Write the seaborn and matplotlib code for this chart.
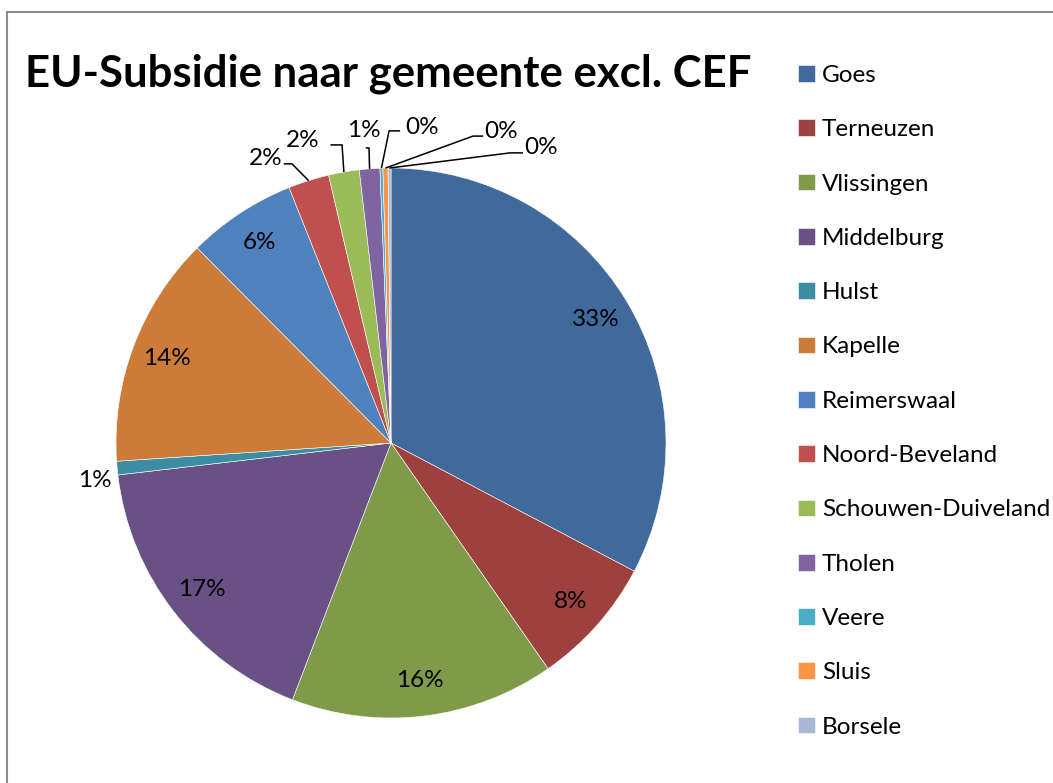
import numpy as np
import matplotlib
matplotlib.use("Agg")
import matplotlib.pyplot as plt
import matplotlib.patches as mpatches
import seaborn as sns

# data (share of total, %)
gemeenten = ["Goes", "Terneuzen", "Vlissingen", "Middelburg", "Hulst", "Kapelle",
             "Reimerswaal", "Noord-Beveland", "Schouwen-Duiveland", "Tholen",
             "Veere", "Sluis", "Borsele"]
aandeel = [32.7, 7.6, 15.5, 17.3, 0.8, 13.6, 6.4, 2.4, 1.8, 1.2, 0.17, 0.3, 0.17]
kleuren = ["#40699C", "#9E413E", "#7F9A48", "#695185", "#3C8DA3", "#CC7B38",
           "#4F81BD", "#C0504D", "#9BBB59", "#8064A2", "#4BACC6", "#F79646", "#A7B9D6"]

titel = "EU-Subsidie naar gemeente excl. CEF"

sns.set_theme(style="white")
plt.rcParams["font.family"] = ["Lato", "DejaVu Sans"]
plt.rcParams["text.color"] = "black"

W, H = 1053, 783
fig = plt.figure(figsize=(W / 100, H / 100), dpi=100)
fig.patch.set_facecolor("white")

# pie centre / radius in pixels
cx, cy, r = 391, 443, 275
ax = fig.add_axes([0, 0, 1, 1])

wedges, _ = ax.pie(aandeel, colors=kleuren, startangle=90, counterclock=False,
                   radius=1, wedgeprops=dict(edgecolor="white", linewidth=0.4))
ax.set_xlim(-cx / r, (W - cx) / r)
ax.set_ylim(-(H - cy) / r, cy / r)
ax.set_aspect("auto")
ax.axis("off")

totaal = sum(aandeel)
pct = ["{:.0f}%".format(round(v / totaal * 100)) for v in aandeel]
fs = 17.5

# inside labels for the big slices
for i, w in enumerate(wedges):
    if aandeel[i] < 5:
        continue
    mid = np.deg2rad((w.theta1 + w.theta2) / 2)
    ax.text(0.87 * np.cos(mid), 0.87 * np.sin(mid), pct[i], ha="center", va="center",
            fontsize=fs, color="black")

# outside labels (text position, elbow, end of horizontal part) in data units
buiten = {
    4: ((-1.076, -0.138), None, None),
    7: ((-0.455, 1.036), (-0.36, 1.015), (-0.39, 1.015)),
    8: ((-0.32, 1.10), (-0.178, 1.084), (-0.22, 1.084)),
    9: ((-0.10, 1.135), (-0.08, 1.073), (-0.092, 1.073)),
    10: ((0.113, 1.149), (-0.007, 1.135), (0.033, 1.135)),
    11: ((0.40, 1.131), (0.298, 1.116), (0.335, 1.116)),
    12: ((0.545, 1.076), (0.433, 1.055), (0.48, 1.055)),
}
for i, (pos, elbow, end) in buiten.items():
    w = wedges[i]
    ax.text(pos[0], pos[1], pct[i], ha="center", va="center", fontsize=fs, color="black")
    if elbow is not None:
        mid = np.deg2rad((w.theta1 + w.theta2) / 2)
        x0, y0 = np.cos(mid), np.sin(mid)
        ax.plot([x0, elbow[0], end[0]], [y0, elbow[1], end[1]], color="black",
                linewidth=1.1, solid_capstyle="butt")

fig.text(25 / W, 1 - 74 / H, titel, fontsize=31.5, fontweight="bold", ha="left",
         va="center", color="black")

leg = fig.legend(wedges, gemeenten, loc="upper left", bbox_to_anchor=(798 / W, 1 - 65 / H),
                 frameon=False, fontsize=17.5, handlelength=0.68, handleheight=0.68,
                 handletextpad=0.3, labelspacing=1.37, borderaxespad=0, borderpad=0,
                 labelcolor="black")

# outer chart frame (cut off at right and bottom)
frame = mpatches.Rectangle((7 / W, -0.05), 1.2, 1.05 - 12 / H, transform=fig.transFigure,
                           fill=False, edgecolor="#8C8C8C", linewidth=1.5)
fig.patches.append(frame)

fig.savefig("out.png", dpi=100)
